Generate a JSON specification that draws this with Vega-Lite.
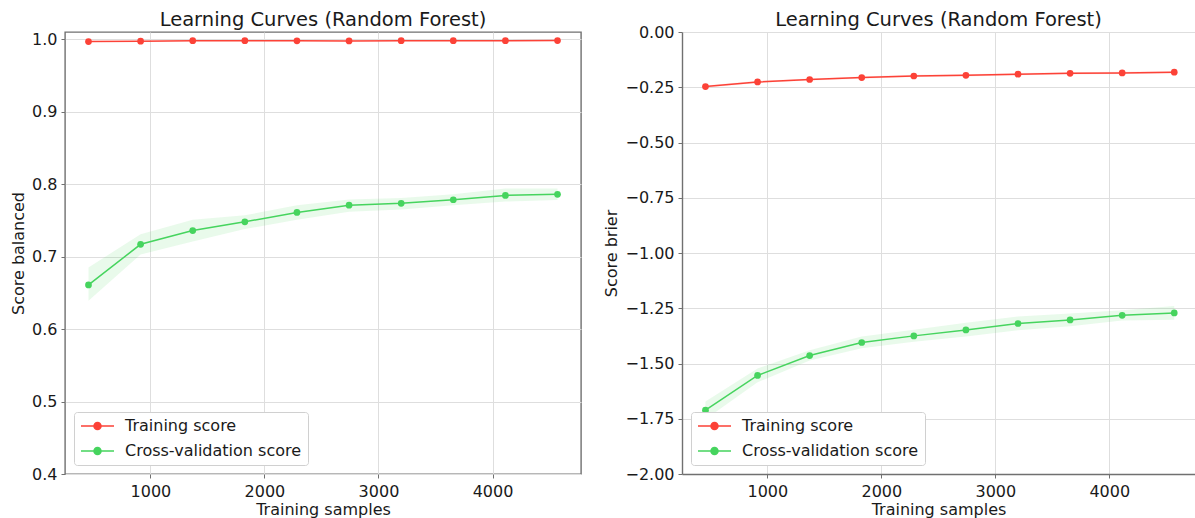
{
  "$schema": "https://vega.github.io/schema/vega-lite/v6.json",
  "autosize": {"type": "pad"},
  "padding": {"left": 9, "top": 9, "right": 0, "bottom": 0},
  "background": "white",
  "spacing": 21,
  "datasets": {
    "balanced": [
      {"n": 457, "series": "Training score", "mean": 0.9968, "lo": 0.9962, "hi": 0.9974},
      {"n": 914, "series": "Training score", "mean": 0.9973, "lo": 0.9967, "hi": 0.9979},
      {"n": 1371, "series": "Training score", "mean": 0.998, "lo": 0.9975, "hi": 0.9985},
      {"n": 1828, "series": "Training score", "mean": 0.998, "lo": 0.9975, "hi": 0.9985},
      {"n": 2285, "series": "Training score", "mean": 0.9978, "lo": 0.9973, "hi": 0.9983},
      {"n": 2742, "series": "Training score", "mean": 0.9977, "lo": 0.9972, "hi": 0.9982},
      {"n": 3199, "series": "Training score", "mean": 0.998, "lo": 0.9975, "hi": 0.9985},
      {"n": 3656, "series": "Training score", "mean": 0.998, "lo": 0.9975, "hi": 0.9985},
      {"n": 4113, "series": "Training score", "mean": 0.998, "lo": 0.9975, "hi": 0.9985},
      {"n": 4570, "series": "Training score", "mean": 0.9981, "lo": 0.9976, "hi": 0.9986},
      {"n": 457, "series": "Cross-validation score", "mean": 0.661, "lo": 0.639, "hi": 0.685},
      {"n": 914, "series": "Cross-validation score", "mean": 0.717, "lo": 0.703, "hi": 0.731},
      {"n": 1371, "series": "Cross-validation score", "mean": 0.736, "lo": 0.721, "hi": 0.751},
      {"n": 1828, "series": "Cross-validation score", "mean": 0.748, "lo": 0.738, "hi": 0.757},
      {"n": 2285, "series": "Cross-validation score", "mean": 0.761, "lo": 0.751, "hi": 0.771},
      {"n": 2742, "series": "Cross-validation score", "mean": 0.771, "lo": 0.762, "hi": 0.779},
      {"n": 3199, "series": "Cross-validation score", "mean": 0.7735, "lo": 0.765, "hi": 0.781},
      {"n": 3656, "series": "Cross-validation score", "mean": 0.7785, "lo": 0.771, "hi": 0.786},
      {"n": 4113, "series": "Cross-validation score", "mean": 0.7845, "lo": 0.776, "hi": 0.794},
      {"n": 4570, "series": "Cross-validation score", "mean": 0.786, "lo": 0.778, "hi": 0.794}
    ],
    "brier": [
      {"n": 457, "series": "Training score", "mean": -0.247, "lo": -0.252, "hi": -0.242},
      {"n": 914, "series": "Training score", "mean": -0.226, "lo": -0.231, "hi": -0.221},
      {"n": 1371, "series": "Training score", "mean": -0.215, "lo": -0.22, "hi": -0.21},
      {"n": 1828, "series": "Training score", "mean": -0.206, "lo": -0.211, "hi": -0.201},
      {"n": 2285, "series": "Training score", "mean": -0.199, "lo": -0.204, "hi": -0.194},
      {"n": 2742, "series": "Training score", "mean": -0.196, "lo": -0.201, "hi": -0.191},
      {"n": 3199, "series": "Training score", "mean": -0.191, "lo": -0.196, "hi": -0.186},
      {"n": 3656, "series": "Training score", "mean": -0.187, "lo": -0.192, "hi": -0.182},
      {"n": 4113, "series": "Training score", "mean": -0.185, "lo": -0.19, "hi": -0.18},
      {"n": 4570, "series": "Training score", "mean": -0.182, "lo": -0.187, "hi": -0.177},
      {"n": 457, "series": "Cross-validation score", "mean": -1.711, "lo": -1.752, "hi": -1.672},
      {"n": 914, "series": "Cross-validation score", "mean": -1.554, "lo": -1.585, "hi": -1.523},
      {"n": 1371, "series": "Cross-validation score", "mean": -1.464, "lo": -1.486, "hi": -1.44},
      {"n": 1828, "series": "Cross-validation score", "mean": -1.405, "lo": -1.431, "hi": -1.378},
      {"n": 2285, "series": "Cross-validation score", "mean": -1.375, "lo": -1.402, "hi": -1.347},
      {"n": 2742, "series": "Cross-validation score", "mean": -1.348, "lo": -1.378, "hi": -1.316},
      {"n": 3199, "series": "Cross-validation score", "mean": -1.319, "lo": -1.35, "hi": -1.287},
      {"n": 3656, "series": "Cross-validation score", "mean": -1.303, "lo": -1.331, "hi": -1.274},
      {"n": 4113, "series": "Cross-validation score", "mean": -1.282, "lo": -1.305, "hi": -1.259},
      {"n": 4570, "series": "Cross-validation score", "mean": -1.271, "lo": -1.302, "hi": -1.24}
    ]
  },
  "hconcat": [
    {
      "width": 516,
      "height": 442,
      "title": {"text": "Learning Curves (Random Forest)", "offset": 1},
      "data": {"name": "balanced"},
      "encoding": {
        "x": {
          "field": "n", "type": "quantitative", "title": "Training samples",
          "scale": {"domain": [251, 4776], "nice": false, "zero": false},
          "axis": {"values": [1000, 2000, 3000, 4000], "format": "d"}
        }
      },
      "layer": [
        {
          "mark": {"type": "area", "fillOpacity": 0.12},
          "encoding": {
            "y": {
              "field": "lo", "type": "quantitative", "title": "Score balanced",
              "scale": {"domain": [0.4, 1.01], "nice": false, "zero": false},
              "axis": {"values": [0.4, 0.5, 0.6, 0.7, 0.8, 0.9, 1.0], "format": ".1f"}
            },
            "y2": {"field": "hi"},
            "fill": {
              "field": "series", "type": "nominal", "legend": null,
              "scale": {"domain": ["Cross-validation score", "Training score"], "range": ["#46d45e", "#fc4237"]}
            }
          }
        },
        {
          "mark": {"type": "line", "strokeWidth": 1.5},
          "encoding": {
            "y": {"field": "mean", "type": "quantitative", "title": "Score balanced"},
            "color": {
              "field": "series", "type": "nominal", "title": null,
              "scale": {"domain": ["Training score", "Cross-validation score"], "range": ["#fc4237", "#46d45e"]},
              "legend": {
                "orient": "bottom-left",
                "encode": {
                  "symbols": {
                    "update": {
                      "fill": {"signal": "datum.value === 'Training score' ? '#fc4237' : '#46d45e'"},
                      "stroke": {"signal": "datum.value === 'Training score' ? '#fc4237' : '#46d45e'"}
                    }
                  }
                }
              }
            }
          }
        },
        {
          "mark": {"type": "point", "filled": true, "size": 45, "opacity": 1},
          "encoding": {
            "y": {"field": "mean", "type": "quantitative", "title": "Score balanced"},
            "fill": {"field": "series", "type": "nominal", "legend": null}
          }
        }
      ]
    },
    {
      "width": 513,
      "height": 442,
      "view": {"stroke": null},
      "title": {"text": "Learning Curves (Random Forest)", "offset": -6},
      "data": {"name": "brier"},
      "encoding": {
        "x": {
          "field": "n", "type": "quantitative", "title": "Training samples",
          "scale": {"domain": [251, 4752], "nice": false, "zero": false},
          "axis": {"values": [1000, 2000, 3000, 4000], "format": "d", "domain": true}
        }
      },
      "layer": [
        {
          "mark": {"type": "area", "fillOpacity": 0.12},
          "encoding": {
            "y": {
              "field": "lo", "type": "quantitative", "title": "Score brier",
              "scale": {"domain": [-2, 0], "nice": false, "zero": false},
              "axis": {"values": [-2, -1.75, -1.5, -1.25, -1, -0.75, -0.5, -0.25, 0], "format": ".2f", "domain": true}
            },
            "y2": {"field": "hi"},
            "fill": {
              "field": "series", "type": "nominal", "legend": null,
              "scale": {"domain": ["Cross-validation score", "Training score"], "range": ["#46d45e", "#fc4237"]}
            }
          }
        },
        {
          "mark": {"type": "rule", "color": "#707070", "strokeWidth": 1.4},
          "encoding": {"y": {"datum": 0, "type": "quantitative"}}
        },
        {
          "mark": {"type": "line", "strokeWidth": 1.5},
          "encoding": {
            "y": {"field": "mean", "type": "quantitative", "title": "Score brier"},
            "color": {
              "field": "series", "type": "nominal", "title": null,
              "scale": {"domain": ["Training score", "Cross-validation score"], "range": ["#fc4237", "#46d45e"]},
              "legend": {
                "orient": "bottom-left",
                "encode": {
                  "symbols": {
                    "update": {
                      "fill": {"signal": "datum.value === 'Training score' ? '#fc4237' : '#46d45e'"},
                      "stroke": {"signal": "datum.value === 'Training score' ? '#fc4237' : '#46d45e'"}
                    }
                  }
                }
              }
            }
          }
        },
        {
          "mark": {"type": "point", "filled": true, "size": 45, "opacity": 1},
          "encoding": {
            "y": {"field": "mean", "type": "quantitative", "title": "Score brier"},
            "fill": {"field": "series", "type": "nominal", "legend": null}
          }
        }
      ]
    }
  ],
  "resolve": {
    "scale": {"x": "independent", "y": "independent", "color": "independent", "fill": "independent"},
    "legend": {"color": "independent"}
  },
  "config": {
    "font": "DejaVu Sans",
    "view": {"stroke": "#707070", "strokeWidth": 1.4},
    "title": {
      "font": "DejaVu Sans", "fontSize": 19.5, "fontWeight": "normal", "color": "#1a1a1a",
      "anchor": "middle", "baseline": "alphabetic"
    },
    "axis": {
      "labelFont": "DejaVu Sans", "labelFontSize": 16, "labelColor": "#1a1a1a",
      "titleFont": "DejaVu Sans", "titleFontSize": 16, "titleFontWeight": "normal", "titleColor": "#1a1a1a",
      "gridColor": "#dedede", "gridWidth": 1,
      "tickColor": "#707070", "tickSize": 4, "tickWidth": 1,
      "domain": false, "domainColor": "#707070", "domainWidth": 1.4,
      "labelPadding": 4, "labelFlush": false, "labelOverlap": false
    },
    "axisX": {"titlePadding": 2, "labelPadding": 5},
    "axisY": {"titlePadding": 5},
    "legend": {
      "offset": 9,
      "padding": 6,
      "fillColor": "white",
      "strokeColor": "#d0d0d0",
      "cornerRadius": 3,
      "labelFont": "DejaVu Sans",
      "labelFontSize": 16,
      "labelColor": "#1a1a1a",
      "labelLimit": 0,
      "labelOffset": 29,
      "rowPadding": 9,
      "symbolType": "M-1.75,0H6.5M1.5,0A0.875,0.875 0 1,0 3.25,0A0.875,0.875 0 1,0 1.5,0",
      "symbolSize": 64,
      "symbolStrokeWidth": 1.5,
      "symbolOpacity": 1
    }
  }
}
